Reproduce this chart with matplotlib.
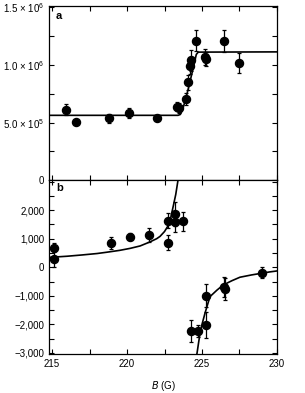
import matplotlib
matplotlib.use("Agg")
from matplotlib import pyplot as plt
from matplotlib.ticker import FuncFormatter, MultipleLocator

plt.rcParams['font.family'] = ['Liberation Sans', 'DejaVu Sans']
plt.rcParams['mathtext.default'] = 'regular'
plt.rcParams['font.size'] = 7

# panel a: data points (B in G, value)
a_B = [215.93, 216.6, 218.8, 220.1, 222.0, 223.3, 223.47, 223.93, 224.05,
       224.22, 224.24, 224.58, 225.22, 225.24, 226.49, 227.44]
a_val = [0.612e6, 0.509e6, 0.537e6, 0.584e6, 0.54e6, 0.638e6, 0.627e6, 0.704e6,
         0.851e6, 0.991e6, 1.04e6, 1.209e6, 1.069e6, 1.054e6, 1.207e6, 1.017e6]
a_err = [0.05e6, 0.0, 0.04e6, 0.045e6, 0.0, 0.04e6, 0.04e6, 0.05e6, 0.065e6,
         0.07e6, 0.09e6, 0.09e6, 0.07e6, 0.06e6, 0.095e6, 0.085e6]

# panel a: fitted curve
a_fit_B = [214.8, 223.4, 223.55, 223.7, 223.9, 224.1, 224.3, 224.5, 224.62, 224.75, 230.0]
a_fit_val = [0.563e6, 0.563e6, 0.57e6, 0.61e6, 0.7e6, 0.8e6, 0.91e6, 1.02e6, 1.09e6, 1.11e6, 1.112e6]

# panel b: data points
b_B = [215.13, 215.13, 218.93, 220.2, 221.45, 222.7, 222.7, 223.22, 223.22,
       223.73, 224.24, 224.75, 225.24, 225.24, 226.49, 226.52, 228.97]
b_val = [685, 290, 860, 1070, 1130, 1630, 860, 1860, 1580,
         1610, -2230, -2230, -990, -2020, -700, -760, -190]
b_err = [150, 290, 210, 120, 235, 260, 255, 430, 330,
         330, 400, 200, 400, 460, 350, 400, 200]

# panel b: fitted curve (two branches)
b_fit1_B = [214.8, 216.0, 217.0, 218.0, 218.64, 219.5, 220.2, 220.87, 221.5,
            221.98, 222.2, 222.5, 222.7, 222.9, 223.1, 223.25, 223.4, 223.5]
b_fit1_val = [345, 385, 430, 480, 525, 590, 660, 745, 880,
              1000, 1080, 1250, 1420, 1700, 2180, 2550, 3050, 3400]
b_fit2_B = [224.55, 224.7, 224.77, 224.87, 225.0, 225.2, 225.53, 226.0, 226.42,
            227.0, 227.53, 228.3, 228.98, 229.5, 230.0]
b_fit2_val = [-3400, -2900, -2650, -2310, -2000, -1610, -1030, -800, -620,
              -470, -350, -270, -210, -165, -130]

fig = plt.figure(figsize=(3.05, 3.93), dpi=100)
ax1 = fig.add_axes([0.161, 0.541, 0.747, 0.444])
ax2 = fig.add_axes([0.161, 0.099, 0.747, 0.442])

ebkw = dict(fmt='o', color='black', markersize=5.8, elinewidth=0.9,
            capsize=1.5, capthick=0.9, zorder=3)

ax1.plot(a_fit_B, a_fit_val, '-', color='black', lw=1.2)
ax1.errorbar(a_B, a_val, yerr=a_err, **ebkw)
ax1.set_ylim(0, 1.51e6)
ax1.set_xlim(214.8, 230)


def sci(v, pos):
    if v == 0:
        return '0'
    return r'%.1f $\times$ 10$^6$' % (v / 1e6) if v >= 1e6 else r'%.1f $\times$ 10$^5$' % (v / 1e5)


ax1.yaxis.set_major_locator(MultipleLocator(0.5e6))
ax1.yaxis.set_minor_locator(MultipleLocator(0.25e6))
ax1.yaxis.set_major_formatter(FuncFormatter(sci))
ax1.set_xticklabels([])
ax1.text(0.03, 0.97, 'a', transform=ax1.transAxes, fontweight='bold',
         fontsize=8, va='top', ha='left')

ax2.plot(b_fit1_B, b_fit1_val, '-', color='black', lw=1.2)
ax2.plot(b_fit2_B, b_fit2_val, '-', color='black', lw=1.2)
ax2.errorbar(b_B, b_val, yerr=b_err, **ebkw)
ax2.set_ylim(-3040, 3040)
ax2.set_xlim(214.8, 230)
ax2.set_yticks([-3000, -2000, -1000, 0, 1000, 2000])
ax2.yaxis.set_minor_locator(MultipleLocator(500))
ax2.yaxis.set_major_formatter(FuncFormatter(
    lambda v, p: ('{:,}'.format(int(v))).replace('-', '\u2212')))
ax2.set_xlabel('$\\it{B}$ (G)', labelpad=7)
ax2.text(0.03, 0.985, 'b', transform=ax2.transAxes, fontweight='bold',
         fontsize=8, va='top', ha='left')

for ax in (ax1, ax2):
    ax.xaxis.set_major_locator(MultipleLocator(5))
    ax.xaxis.set_minor_locator(MultipleLocator(2.5))
    ax.tick_params(which='both', direction='in', top=True, right=True,
                   width=0.8, labelsize=7)
    ax.tick_params(which='major', length=3.5)
    ax.tick_params(which='minor', length=3.5)
    for s in ax.spines.values():
        s.set_linewidth(0.9)

plt.savefig('out.png', dpi=100)
